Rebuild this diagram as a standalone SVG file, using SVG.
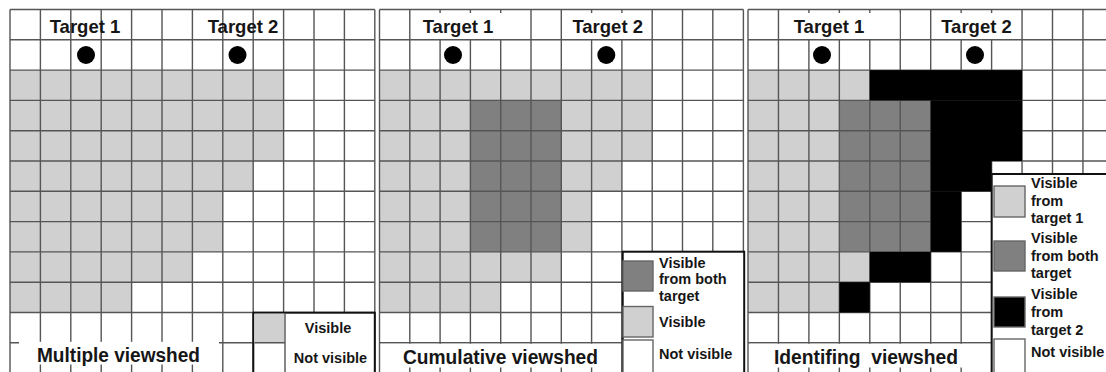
<svg xmlns="http://www.w3.org/2000/svg" width="1106" height="372" viewBox="0 0 1106 372">
<style>
.lt{fill:#d0d0d0}
.dk{fill:#808080}
.bk{fill:#000}
.grid{fill:none;stroke:#555;stroke-width:1.4}
.wb{fill:#fff}
.leg{fill:#fff;stroke:#111;stroke-width:2}
.sw{stroke:#666;stroke-width:1.4}
.t{font-family:"Liberation Sans",Arial,sans-serif;font-weight:bold;fill:#161616}
.tg{font-size:18.5px;text-anchor:middle}
.ti{font-size:20px;text-anchor:middle}
.lg{font-size:14.5px}
</style>
<rect width="1106" height="372" fill="#fff"/>

<g id="panel-multiple">
<rect class="lt" x="10" y="70.1" width="273.6" height="90.9"/>
<rect class="lt" x="10" y="161" width="243.2" height="30.3"/>
<rect class="lt" x="10" y="191.3" width="212.8" height="60.6"/>
<rect class="lt" x="10" y="251.9" width="182.4" height="30.3"/>
<rect class="lt" x="10" y="282.2" width="121.6" height="30.3"/>
<path class="grid" d="M10 9.5V372M40.4 9.5V372M70.8 9.5V372M101.2 9.5V372M131.6 9.5V372M162 9.5V372M192.4 9.5V372M222.8 9.5V372M253.2 9.5V372M283.6 9.5V372M314 9.5V372M344.4 9.5V372M374.8 9.5V372M10 9.5H374.8M10 39.8H374.8M10 70.1H374.8M10 100.4H374.8M10 130.7H374.8M10 161H374.8M10 191.3H374.8M10 221.6H374.8M10 251.9H374.8M10 282.2H374.8M10 312.5H374.8M10 342.8H374.8"/>
<circle cx="86" cy="55" r="9" class="bk"/>
<circle cx="237.5" cy="55" r="9" class="bk"/>
<text class="t tg" x="85" y="32.5">Target 1</text>
<text class="t tg" x="243" y="32.5">Target 2</text>
<rect class="wb" x="19" y="341.8" width="200" height="22.7"/>
<text class="t ti" x="118.5" y="361.5" textLength="163" lengthAdjust="spacingAndGlyphs">Multiple viewshed</text>
<g id="legend-multiple">
<rect class="leg" x="253.3" y="312.7" width="121.5" height="62"/>
<rect class="lt" x="254.3" y="313.7" width="30" height="29"/>
<path class="grid" d="M254.3 342.8H285M285 313.7V372"/>
<text class="t lg" x="328" y="332.5" text-anchor="middle">Visible</text>
<text class="t lg" x="330.5" y="363" text-anchor="middle">Not visible</text>
</g>
</g>

<g id="panel-cumulative">
<rect class="lt" x="379.5" y="70.1" width="272.7" height="90.9"/>
<rect class="lt" x="379.5" y="161" width="242.4" height="30.3"/>
<rect class="lt" x="379.5" y="191.3" width="212.1" height="60.6"/>
<rect class="lt" x="379.5" y="251.9" width="181.8" height="30.3"/>
<rect class="lt" x="379.5" y="282.2" width="121.2" height="30.3"/>
<rect class="dk" x="470.4" y="100.4" width="90.9" height="151.5"/>
<path class="grid" d="M379.5 9.5V372M409.8 9.5V372M440.1 9.5V372M470.4 9.5V372M500.7 9.5V372M531 9.5V372M561.3 9.5V372M591.6 9.5V372M621.9 9.5V372M652.2 9.5V372M682.5 9.5V372M712.8 9.5V372M743.4 9.5V372M379.5 9.5H743.4M379.5 39.8H743.4M379.5 70.1H743.4M379.5 100.4H743.4M379.5 130.7H743.4M379.5 161H743.4M379.5 191.3H743.4M379.5 221.6H743.4M379.5 251.9H743.4M379.5 282.2H743.4M379.5 312.5H743.4M379.5 342.8H743.4"/>
<circle cx="453" cy="55" r="9" class="bk"/>
<circle cx="606.3" cy="55" r="9" class="bk"/>
<rect class="wb" x="411" y="13" width="119" height="26"/>
<rect class="wb" x="562.5" y="13" width="88.5" height="26"/>
<text class="t tg" x="458" y="32.5">Target 1</text>
<text class="t tg" x="607.7" y="32.5">Target 2</text>
<rect class="wb" x="381" y="343.8" width="239.5" height="23.7"/>
<text class="t ti" x="500.5" y="364" textLength="195" lengthAdjust="spacingAndGlyphs">Cumulative viewshed</text>
<g id="legend-cumulative">
<rect class="leg" x="622.7" y="251.7" width="121.5" height="122"/>
<rect class="dk sw" x="623" y="261" width="30" height="30"/>
<rect class="lt sw" x="623" y="306.5" width="30" height="30.5"/>
<rect class="wb sw" x="623" y="340" width="30" height="33"/>
<text class="t lg" x="659" y="267.5">Visible</text>
<text class="t lg" x="659" y="284.3">from both</text>
<text class="t lg" x="659" y="300.7">target</text>
<text class="t lg" x="659" y="327.3">Visible</text>
<text class="t lg" x="659" y="359.3">Not visible</text>
</g>
</g>

<g id="panel-identifying">
<rect class="lt" x="748" y="70.1" width="121.8" height="30.3"/>
<rect class="lt" x="748" y="100.4" width="91.35" height="151.5"/>
<rect class="lt" x="748" y="251.9" width="121.8" height="30.3"/>
<rect class="lt" x="748" y="282.2" width="91.35" height="30.3"/>
<rect class="dk" x="839.35" y="100.4" width="91.35" height="151.5"/>
<path class="grid" d="M748 9.5V372M778.45 9.5V372M808.9 9.5V372M839.35 9.5V372M869.8 9.5V372M900.25 9.5V372M930.7 9.5V372M961.15 9.5V372M991.6 9.5V372M1022.05 9.5V372M1052.5 9.5V372M1082.95 9.5V372M748 9.5H1106M748 39.8H1106M748 70.1H1106M748 100.4H1106M748 130.7H1106M748 161H1106M748 191.3H1106M748 221.6H1106M748 251.9H1106M748 282.2H1106M748 312.5H1106M748 342.8H1106"/>
<rect class="bk" x="869.8" y="70.1" width="152.25" height="30.3"/>
<rect class="bk" x="930.7" y="100.4" width="91.35" height="60.6"/>
<rect class="bk" x="930.7" y="161" width="60.9" height="30.3"/>
<rect class="bk" x="930.7" y="191.3" width="30.45" height="60.6"/>
<rect class="bk" x="869.8" y="251.9" width="60.9" height="30.3"/>
<rect class="bk" x="839.35" y="282.2" width="30.45" height="30.3"/>
<circle cx="822" cy="55" r="9" class="bk"/>
<circle cx="975" cy="55" r="9" class="bk"/>
<rect class="wb" x="780" y="13" width="119.5" height="26"/>
<rect class="wb" x="932" y="13" width="89" height="26"/>
<text class="t tg" x="829" y="32.5">Target 1</text>
<text class="t tg" x="976.5" y="32.5">Target 2</text>
<rect class="wb" x="750" y="343.8" width="240" height="23.7"/>
<text class="t ti" x="866" y="364" textLength="184" lengthAdjust="spacingAndGlyphs" xml:space="preserve">Identifing  viewshed</text>
<g id="legend-identifying">
<rect class="leg" x="991.7" y="174" width="120" height="200"/>
<rect class="lt sw" x="994" y="186" width="31" height="31"/>
<rect class="dk sw" x="994" y="241" width="31" height="30"/>
<rect class="bk sw" x="994" y="297" width="31" height="30"/>
<rect class="wb sw" x="994" y="339" width="31" height="34"/>
<text class="t lg" x="1031" y="188.3">Visible</text>
<text class="t lg" x="1031" y="205.7">from</text>
<text class="t lg" x="1031" y="223.3">target 1</text>
<text class="t lg" x="1031" y="243.3">Visible</text>
<text class="t lg" x="1031" y="261">from both</text>
<text class="t lg" x="1031" y="278.3">target</text>
<text class="t lg" x="1031" y="299.3">Visible</text>
<text class="t lg" x="1031" y="317.3">from</text>
<text class="t lg" x="1031" y="335">target 2</text>
<text class="t lg" x="1031" y="357.3">Not visible</text>
</g>
</g>
</svg>
